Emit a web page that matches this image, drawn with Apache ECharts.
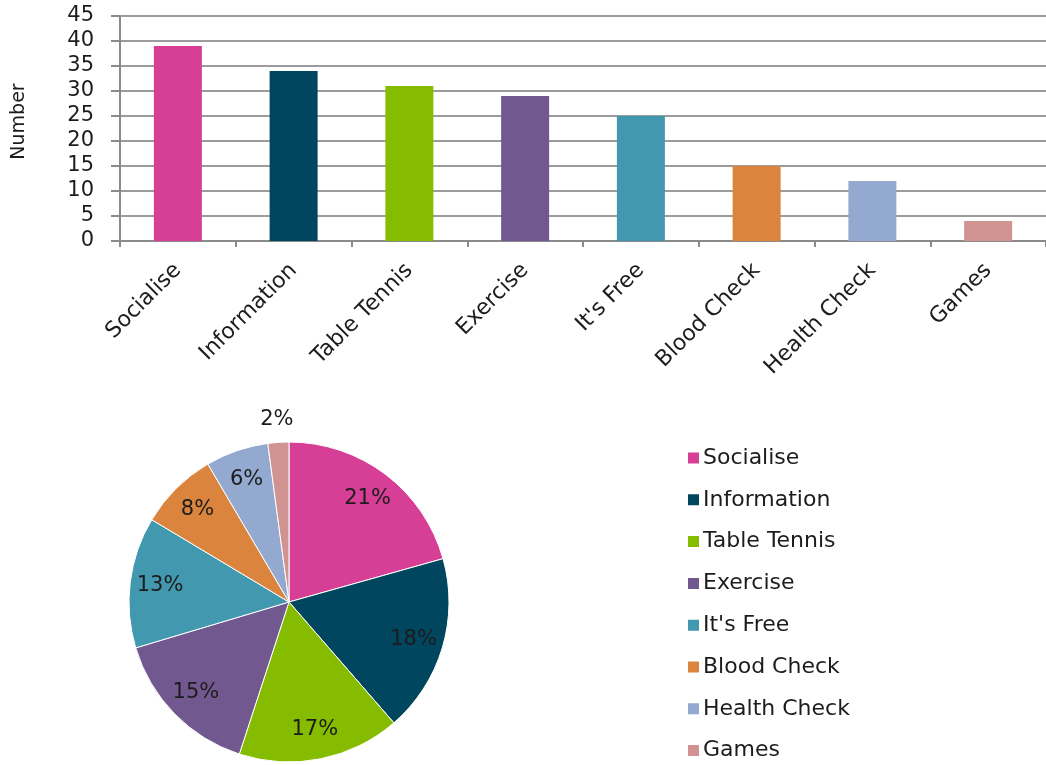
<!DOCTYPE html>
<html>
<head>
<meta charset="utf-8">
<script src="https://cdn.jsdelivr.net/npm/echarts@6/dist/echarts.min.js"></script>
<style>
html,body{margin:0;padding:0;background:#fff;}
#c{width:1046px;height:765px;}
</style>
</head>
<body>
<div id="c"></div>
<script>
const categories = ['Socialise', 'Information', 'Table Tennis', 'Exercise', "It's Free", 'Blood Check', 'Health Check', 'Games'];
const counts = [39, 34, 31, 29, 25, 15, 12, 4];
const colors = ['#D63F95', '#00465F', '#86BC00', '#71588F', '#4198AF', '#DB843D', '#93A9CF', '#D19392'];
const yTicks = { min: 0, max: 45, interval: 5 };
const yAxisTitle = 'Number';
const outsideLabelNames = ['Games'];

const FONT = 'DejaVu Sans';
const TXT = '#1c1c1c';

const chart = echarts.init(document.getElementById('c'), null, { renderer: 'canvas' });

const pieData = categories.map((c, i) => ({ name: c, value: counts[i] }));
const innerLabelData = categories.map((c, i) => ({
  name: c, value: counts[i], label: { show: outsideLabelNames.indexOf(c) < 0 }
}));
const outerLabelData = categories.map((c, i) => ({
  name: c, value: counts[i], label: { show: outsideLabelNames.indexOf(c) >= 0 }
}));

const option = {
  animation: false,
  color: colors,
  backgroundColor: '#ffffff',
  textStyle: { fontFamily: FONT },
  grid: { left: 120, top: 16, width: 933, height: 225, containLabel: false },
  xAxis: {
    type: 'category',
    data: categories,
    axisLine: { show: true, lineStyle: { color: '#8a8a8a', width: 2 } },
    axisTick: { show: true, alignWithLabel: false, length: 6, lineStyle: { color: '#8a8a8a', width: 2 } },
    axisLabel: { rotate: 45, margin: 26, fontSize: 22, color: TXT, fontFamily: FONT, interval: 0 },
    splitLine: { show: false }
  },
  yAxis: {
    type: 'value',
    min: yTicks.min, max: yTicks.max, interval: yTicks.interval,
    name: yAxisTitle,
    nameLocation: 'middle',
    nameGap: 91,
    nameRotate: 90,
    nameTextStyle: { fontSize: 19, color: TXT, fontFamily: FONT, padding: [0, 0, 0, 14] },
    axisLine: { show: true, lineStyle: { color: '#8a8a8a', width: 2 } },
    axisTick: { show: true, length: 9, lineStyle: { color: '#8a8a8a', width: 2 } },
    axisLabel: { margin: 26, fontSize: 21, color: TXT, fontFamily: FONT },
    splitLine: { show: true, lineStyle: { color: '#9c9c9c', width: 2 } }
  },
  legend: {
    orient: 'vertical',
    left: 686,
    top: 447,
    height: 318,
    padding: 0,
    data: categories,
    icon: 'rect',
    itemWidth: 13,
    itemHeight: 13,
    itemGap: 19.8,
    selectedMode: false,
    textStyle: { fontSize: 22, lineHeight: 22, color: TXT, fontFamily: FONT, padding: [0, 0, 0, -2] }
  },
  series: [
    {
      type: 'bar',
      name: 'Number',
      colorBy: 'data',
      data: counts,
      barWidth: 48,
      itemStyle: { borderWidth: 0 },
      label: { show: false }
    },
    {
      type: 'pie',
      name: 'share',
      center: [289, 602],
      radius: [0, 160],
      startAngle: 90,
      clockwise: true,
      avoidLabelOverlap: false,
      percentPrecision: 0,
      data: pieData,
      itemStyle: { borderColor: '#ffffff', borderWidth: 1 },
      label: { show: false },
      labelLine: { show: false },
      emphasis: { disabled: true }
    },
    {
      type: 'pie',
      name: 'labels-inner',
      center: [289, 602],
      radius: [100, 154],
      startAngle: 90,
      clockwise: true,
      silent: true,
      avoidLabelOverlap: false,
      percentPrecision: 0,
      data: innerLabelData,
      itemStyle: { color: 'rgba(0,0,0,0)', borderWidth: 0 },
      label: { position: 'inner', formatter: '{d}%', fontSize: 21, color: TXT, fontFamily: FONT },
      labelLine: { show: false },
      emphasis: { disabled: true }
    },
    {
      type: 'pie',
      name: 'labels-outer',
      center: [289, 602],
      radius: [175, 185],
      startAngle: 90,
      clockwise: true,
      silent: true,
      avoidLabelOverlap: false,
      percentPrecision: 0,
      data: outerLabelData,
      itemStyle: { color: 'rgba(0,0,0,0)', borderWidth: 0 },
      label: { position: 'inner', formatter: '{d}%', fontSize: 21, color: TXT, fontFamily: FONT },
      labelLine: { show: false },
      emphasis: { disabled: true }
    }
  ]
};
chart.setOption(option);
</script>
</body>
</html>
